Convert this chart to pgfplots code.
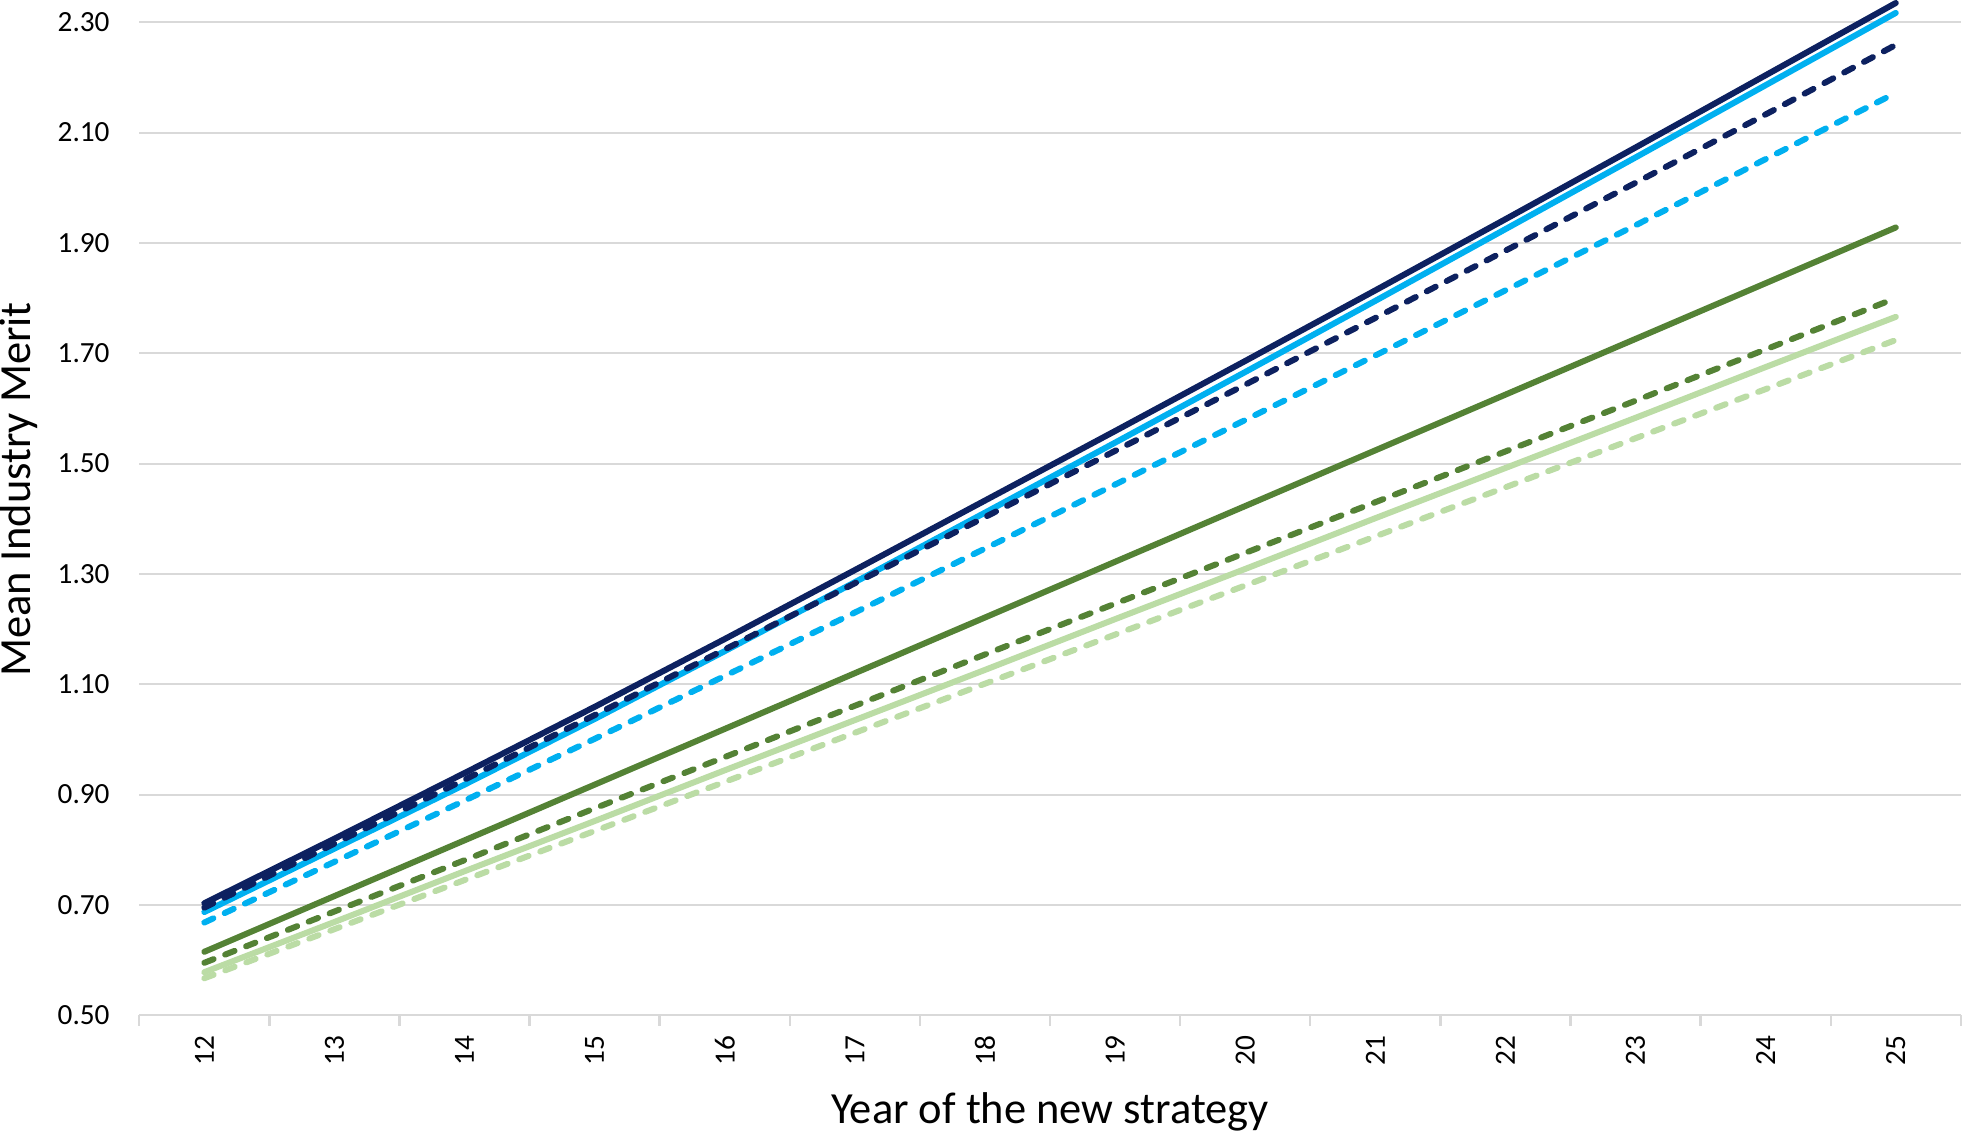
\documentclass[border=0pt]{standalone}
\usepackage{pgfplots}
\usepackage{pgfplotstable}
\usepackage{fontspec}
\setmainfont{Carlito}
\pgfplotsset{compat=1.18}
\definecolor{navyc}{HTML}{0D2160}
\definecolor{bluec}{HTML}{00B0F0}
\definecolor{greenc}{HTML}{548235}
\definecolor{lgreenc}{HTML}{BBDCA5}
\definecolor{gridc}{HTML}{D9D9D9}
\pgfplotstableread{
x ns bs nd bd gs gd ls ld
12 0.703 0.687 0.695 0.668 0.615 0.595 0.578 0.567
13 0.820 0.802 0.811 0.778 0.716 0.688 0.669 0.656
14 0.939 0.918 0.927 0.889 0.817 0.781 0.761 0.745
15 1.059 1.037 1.044 1.001 0.918 0.875 0.852 0.834
16 1.182 1.160 1.163 1.115 1.019 0.968 0.944 0.923
17 1.307 1.285 1.283 1.230 1.120 1.061 1.035 1.012
18 1.433 1.411 1.403 1.346 1.221 1.154 1.126 1.101
19 1.559 1.538 1.523 1.462 1.322 1.246 1.218 1.190
20 1.686 1.666 1.643 1.579 1.423 1.338 1.309 1.279
21 1.814 1.795 1.764 1.696 1.524 1.430 1.401 1.368
22 1.943 1.925 1.886 1.814 1.625 1.522 1.492 1.457
23 2.073 2.055 2.009 1.932 1.726 1.614 1.583 1.546
24 2.204 2.186 2.133 2.052 1.827 1.707 1.675 1.635
25 2.335 2.317 2.259 2.172 1.928 1.800 1.766 1.724
}\datatable
\begin{document}
\begin{tikzpicture}
\begin{axis}[
  scale only axis,
  width=454.5pt, height=253.25pt,
  xmin=11.5, xmax=25.5,
  ymin=0.5, ymax=2.34,
  clip=false,
  axis lines*=left,
  axis line style={-},
  y axis line style={draw=none},
  x axis line style={draw=gridc, line width=0.6pt},
  xtick={12,...,25},
  minor xtick={11.5,12.5,...,25.5},
  major tick length=0pt,
  minor tick length=2.6pt,
  tick align=outside,
  every minor tick/.append style={draw=gridc, line width=0.6pt},
  ytick={0.5,0.7,...,2.31},
  ymajorgrids,
  major grid style={draw=gridc, line width=0.5pt},
  ytick style={draw=none},
  /pgf/number format/assume math mode=true,
  yticklabel={\pgfmathprintnumber[fixed,zerofill,precision=2]{\tick}},
  yticklabel style={font=\fontsize{7.3pt}{8pt}\selectfont, inner sep=0pt, anchor=east, xshift=-7.2pt},
  xticklabel style={font=\fontsize{7.3pt}{8pt}\selectfont, rotate=90, anchor=east, inner sep=0pt, inner xsep=5pt},
  xlabel={Year of the new strategy},
  ylabel={Mean Industry Merit},
  label style={font=\fontsize{11.1pt}{13pt}\selectfont, inner sep=0pt},
  xlabel style={at={(axis description cs:0.5,-0.0948)}, anchor=center},
  ylabel style={at={(axis description cs:-0.066,0.518)}, anchor=center},
  every axis plot/.append style={line width=1.5pt, no markers, line cap=round, line join=round},
]
\addplot[lgreenc, dash pattern=on 2.5pt off 3.1pt] table[x=x,y=ld]{\datatable};
\addplot[lgreenc] table[x=x,y=ls]{\datatable};
\addplot[greenc, dash pattern=on 2.5pt off 3.1pt] table[x=x,y=gd]{\datatable};
\addplot[greenc] table[x=x,y=gs]{\datatable};
\addplot[bluec, dash pattern=on 2.5pt off 3.1pt] table[x=x,y=bd]{\datatable};
\addplot[bluec] table[x=x,y=bs]{\datatable};
\addplot[navyc] table[x=x,y=ns]{\datatable};
\addplot[navyc, dash pattern=on 2.5pt off 3.1pt] table[x=x,y=nd]{\datatable};
\end{axis}
\end{tikzpicture}
\end{document}
